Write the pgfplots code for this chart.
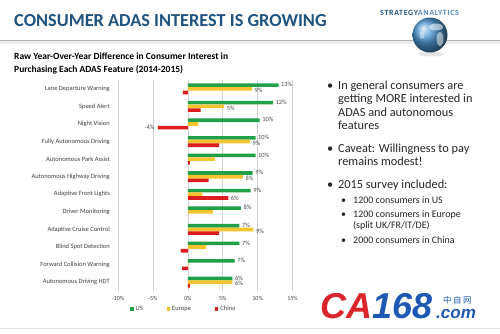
\documentclass[border=0pt]{standalone}
\usepackage{pgfplots}
\pgfplotsset{compat=1.18}
\usepackage{fontspec}
\setmainfont{Carlito}
\newfontfamily\cjk{Noto Sans CJK SC}
\newfontfamily\lib{Liberation Sans}
\definecolor{usg}{RGB}{32,160,72}
\definecolor{eur}{RGB}{245,196,45}
\definecolor{chn}{RGB}{222,28,28}
\definecolor{ttl}{RGB}{31,84,128}
\definecolor{ttl2}{RGB}{80,140,200}
\definecolor{txt}{RGB}{38,38,38}
\definecolor{cared}{RGB}{218,37,42}
\definecolor{cablue}{RGB}{30,90,180}
\begin{document}
\begin{tikzpicture}[x=1pt,y=1pt]
\useasboundingbox (0,0) rectangle (500,333);
\fill[white] (0,0) rectangle (500,333);
% title
\node[anchor=base west, inner sep=0, text=ttl, font=\bfseries\fontsize{18.3}{20}\selectfont] at (14,306.5) {CONSUMER ADAS INTEREST IS GROWING};
% rule
\fill[gray!15] (0,289.5) rectangle (500,292);
\draw[line width=1.1pt, gray!60] (0,292.5) -- (500,292.5);
% logo
\node[anchor=base west, inner sep=0, font=\bfseries\fontsize{8}{9}\selectfont\addfontfeature{LetterSpace=8}] at (380,318) {\textcolor{ttl}{STRATEGY}\textcolor{ttl2}{ANALYTICS}};
\fill[gray!20] (431,279) ellipse (13 and 2.5);
\shade[ball color={rgb,255:red,80;green,155;blue,215}] (430,298) circle (17.5);
\fill[white, opacity=0.55] (436,306) ellipse (7 and 3.5);
\fill[white, opacity=0.5] (440,294) ellipse (3.5 and 7);
\fill[white, opacity=0.4] (422,298) ellipse (2.5 and 4);
% subtitle
\node[anchor=base west, inner sep=0, text=black, font=\bfseries\fontsize{9.5}{13.3}\selectfont] at (14,273.5) {\begin{tabular}[t]{@{}l@{}}Raw Year-Over-Year Difference in Consumer Interest in\\Purchasing Each ADAS Feature (2014-2015)\end{tabular}};
% chart
\begin{axis}[
  at={(118pt,42pt)}, anchor=south west, scale only axis,
  width=174.5pt, height=211pt,
  xbar,
  xmin=-10, xmax=15, ymin=-0.5, ymax=11.5,
  xtick={-10,-5,0,5,10,15},
  xticklabels={-10\%,-5\%,0\%,5\%,10\%,15\%},
  ytick={0,...,11},
  yticklabels={Autonomous Driving HDT, Forward Collision Warning, Blind Spot Detection, Adaptive Cruise Control, Driver Monitoring, Adaptive Front Lights, Autonomous Highway Driving, Autonomous Park Assist, Fully Autonomous Driving, Night Vision, Speed Alert, Lane Departure Warning},
  xmajorgrids, grid style={draw=gray!35, line width=0.6pt},
  axis line style={draw=none},
  major tick length=0pt,
  yticklabel style={font=\fontsize{6.5}{7}\selectfont, inner sep=0pt, xshift=-8pt, text=black!75},
  xticklabel style={font=\fontsize{6}{7}\selectfont, inner sep=0pt, yshift=-5pt, text=black!75},
  nodes near coords={\pgfplotspointmeta}, point meta=explicit symbolic,
  every node near coord/.append style={anchor=west, font=\fontsize{6.4}{6.5}\selectfont, text=black!70, inner sep=2.5pt},
  legend columns=3,
  legend style={at={(0.052,-0.085)}, anchor=west, draw=none, fill=none, font=\fontsize{6.5}{7}\selectfont, text=black!75, /tikz/every even column/.append style={column sep=22pt}},
  legend image code/.code={\fill[#1, draw=none] (0pt,-1.7pt) rectangle (3.4pt,1.7pt);},
]
\addplot[bar width=3.6pt, bar shift=3.7pt, fill=usg, draw=none, every node near coord/.append style={yshift=0.5pt}] coordinates {
(13.0,11)[13\%] (12.2,10)[12\%] (10.3,9)[10\%] (9.7,8)[10\%] (9.7,7)[10\%] (9.3,6)[9\%]
(9.0,5)[9\%] (7.6,4)[8\%] (7.4,3)[7\%] (7.4,2)[7\%] (6.7,1)[7\%] (6.4,0)[6\%]};
\addplot[bar width=3.6pt, bar shift=0pt, fill=eur, draw=none, every node near coord/.append style={yshift=-1.5pt}] coordinates {
(9.2,11)[9\%] (5.2,10)[5\%] (1.5,9)[] (8.9,8)[9\%] (3.9,7)[] (7.9,6)[8\%]
(2.1,5)[] (3.6,4)[] (9.4,3)[9\%] (2.6,2)[] (0.1,1)[] (6.4,0)[6\%]};
\addplot[bar width=3.6pt, bar shift=-3.7pt, fill=chn, draw=none] coordinates {
(-0.7,11)[] (1.85,10)[] (-4.3,9)[\llap{-4\%\hspace{6pt}}] (4.5,8)[] (0.3,7)[] (3.0,6)[]
(5.8,5)[6\%] (0,4)[] (4.5,3)[] (-1.0,2)[] (-0.8,1)[] (0.3,0)[]};
\legend{US,Europe,China}
\end{axis}
% bullets
\begin{scope}[every node/.style={inner sep=0, anchor=base west, text=txt}]
\node[font=\fontsize{12.3}{13.3}\selectfont] at (327,243.5) {•};
\node[font=\fontsize{12.3}{13.3}\selectfont] at (338,243.5) {\begin{tabular}[t]{@{}l@{}}In general consumers are\\getting MORE interested in\\ADAS and autonomous\\features\end{tabular}};
\node[font=\fontsize{12.3}{13.3}\selectfont] at (327,180.5) {•};
\node[font=\fontsize{12.3}{13.3}\selectfont] at (338,180.5) {\begin{tabular}[t]{@{}l@{}}Caveat: Willingness to pay\\remains modest!\end{tabular}};
\node[font=\fontsize{12.3}{13.3}\selectfont] at (327,144.5) {•};
\node[font=\fontsize{12.3}{13.3}\selectfont] at (338,144.5) {2015 survey included:};
\node[font=\fontsize{10}{11}\selectfont] at (341,130) {•};
\node[font=\fontsize{10}{11}\selectfont] at (353,130) {1200 consumers in US};
\node[font=\fontsize{10}{11}\selectfont] at (341,116) {•};
\node[font=\fontsize{10}{11}\selectfont] at (353,116) {\begin{tabular}[t]{@{}l@{}}1200 consumers in Europe\\(split UK/FR/IT/DE)\end{tabular}};
\node[font=\fontsize{10}{11}\selectfont] at (341,90) {•};
\node[font=\fontsize{10}{11}\selectfont] at (353,90) {2000 consumers in China};
\end{scope}
% watermark
\node[anchor=base west, inner sep=0, font=\lib\bfseries\itshape\fontsize{36}{36}\selectfont] at (320,15) {\textcolor{cared}{CA}\textcolor{cablue}{168}};
\node[anchor=base west, inner sep=0, text=cablue, font=\lib\bfseries\itshape\fontsize{17}{17}\selectfont] at (436,15) {.com};
\node[anchor=base west, inner sep=0, text=cablue, font=\cjk\fontsize{8.5}{9}\selectfont] at (443,30) {中\,自\,网};
\draw[gray!20, line width=0.6pt] (0,5) -- (500,5);
\end{tikzpicture}
\end{document}
